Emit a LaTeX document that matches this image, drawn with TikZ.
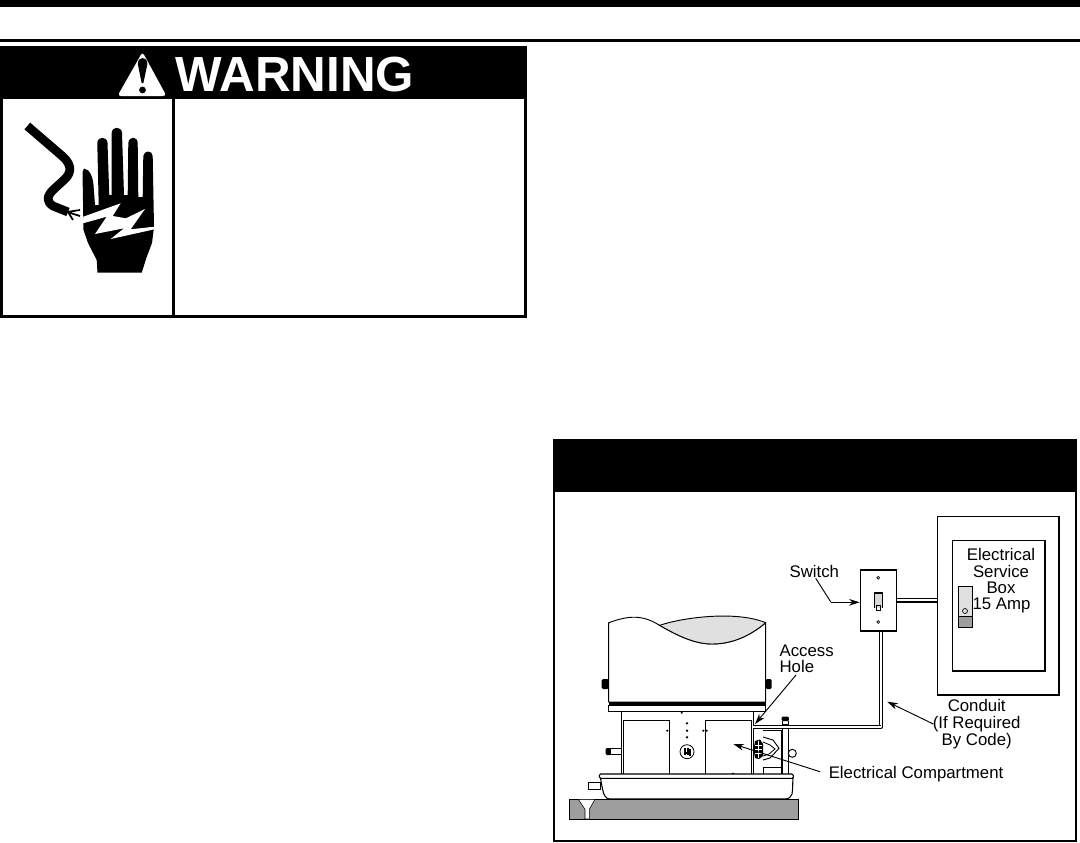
\documentclass[tikz,border=0pt]{standalone}
\usepackage{fontspec}
\setmainfont{Liberation Sans}
\usetikzlibrary{arrows.meta,fit}
\tikzset{
  lbl/.style={font=\fontsize{12.6}{12.6}\selectfont,inner sep=0pt,align=center},
  leader/.style={draw=black,line width=0.7pt,-{Stealth[length=8pt,width=5pt]}},
  pipe/.style={draw=black,line width=3.3pt},
  pipein/.style={draw=white,line width=1.7pt},
  boxn/.style={draw=black,line width=0.9pt,inner sep=0pt,fill=white},
  dot/.style={fill=black,draw=none},
}
\begin{document}
\begin{tikzpicture}[x=0.75pt,y=-0.75pt]
\useasboundingbox (0,0) rectangle (1080,842);
\fill[white] (0,0) rectangle (1080,842);
% page rules
\fill[black] (0,0) rectangle (1080,7);
\fill[black] (0,39.5) rectangle (1080,42);
% warning box
\fill[black] (0,46) rectangle (527,99);
\draw[black,line width=2.4pt] (1.5,98) -- (1.5,316.5) -- (525.5,316.5) -- (525.5,98);
\draw[black,line width=2.4pt] (173.5,99) -- (173.5,316);
\node[font=\fontsize{37}{40}\bfseries\selectfont,text=white,inner sep=0pt] (warn) at (295,74.5) {WARNING};
% warning triangle
\fill[white,rounded corners=2.5pt] (142.5,52) -- (166.5,96) -- (117.5,96) -- cycle;
\fill[black] (137.8,64) .. controls (137.8,56) and (147.4,56) .. (147.4,64) -- (143.4,83) -- (141.6,83) -- cycle;
\fill[black] (142.5,90) circle (3.4);
% cord
\draw[black,line width=6.6pt,line join=round] (27.3,126) -- (61,155) .. controls (72,164) and (72,172) .. (65,179) -- (53,190) .. controls (46,197) and (47,202) .. (53,206) -- (68,212);
\draw[black,line width=1.3pt] (67,212) -- (80,210) (67,212) -- (80,216) (68,212) -- (73,220);
% hand
\fill[black] (97.5,272.7) -- (96.7,260) -- (88,243) -- (83.5,230) -- (82.5,172) -- (84,168.5)
 .. controls (90,169) and (93,178) .. (93.5,185) -- (95,205) -- (98.7,205) -- (97.3,143)
 .. controls (97.5,136) and (107,136) .. (107.5,143) -- (109.3,195) -- (111.7,195) -- (111.7,133)
 .. controls (112,126) and (121.5,126) .. (122,133) -- (124,195) -- (127.7,195) -- (128.3,143)
 .. controls (129,136) and (137.5,136) .. (137.7,143) -- (138.3,197) -- (142.7,197) -- (143.3,156)
 .. controls (144,150) and (152.5,150) .. (152.7,156) -- (154,227) -- (152,243) -- (146.7,257) -- (141.7,272.7) -- cycle;
\fill[white] (83.3,216.7) -- (120.7,203.3) -- (112.7,216) -- (126,218.3) -- (145,209) -- (130.7,229.3) -- (154.5,226.7) -- (154.5,229.3) -- (110.7,239) -- (124,228.3) -- (95,234) -- (106.7,216.7) -- (83,223.3) -- cycle;
% figure frame
\fill[black] (552.5,439) rectangle (1077,492);
\draw[black,line width=1.5pt] (553.5,440) rectangle (1076,841);
% service box
\coordinate (o1) at (937.3,516.7); \coordinate (o2) at (1059,695);
\coordinate (i1) at (952.3,540.5); \coordinate (i2) at (1045,671);
\coordinate (s1) at (860.3,570); \coordinate (s2) at (896.7,631);
\node[boxn,fit=(o1)(o2)] (outer) {};
\node[boxn,fit=(i1)(i2)] (inner) {};
\node[lbl] (elec) at (1001,554) {Electrical};
\node[lbl] (serv) at (1001,571) {Service};
\node[lbl] (boxt) at (1001,588) {Box};
\node[lbl] (amp) at (1001.5,605.5) {15 Amp};
% breaker
\fill[black!12] (958.3,586) rectangle (972.7,616.7);
\fill[black!38] (958.3,616.7) rectangle (972.7,627.3);
\draw[black,line width=0.5pt] (958.3,586) rectangle (972.7,627.3);
\draw[black,line width=1.3pt] (958.3,586.5) -- (972.7,586.5);
\draw[black,line width=0.5pt] (958.3,616.7) -- (972.7,616.7);
\draw[black,line width=0.5pt] (965,611) circle (2.5);
% conduits
\coordinate (bend) at (880.8,727.2);
\coordinate (holeend) at (753.3,727.2);
\coordinate (swbot) at (880.8,631);
\coordinate (swright) at (896.7,600.3);
\coordinate (boxleft) at (937.3,600.3);
\path[pipe,line join=round] (swbot) -- (bend) -- (holeend);
\path[pipe] (swright) -- (boxleft);
\path[pipein,line join=round] (swbot) -- (bend) -- (holeend);
\path[pipein] (swright) -- (boxleft);
% switch
\node[boxn,fit=(s1)(s2)] (plate) {};
\draw[black,line width=0.5pt] (878.3,577.7) circle (1.4);
\draw[black,line width=0.5pt] (878.3,622) circle (1.4);
\fill[black!15] (874.3,592.7) rectangle (882.3,608);
\draw[black,line width=0.8pt] (874.5,608) -- (874.5,593) -- (882.1,593) -- (882.1,608);
\draw[black,line width=0.5pt] (876,605) rectangle (880.6,610.5);
% labels + leaders
\node[lbl] (switch) at (814.3,571.7) {Switch};
\node[lbl,align=left,anchor=west] (access) at (779.3,658.7) {Access\\Hole};
\node[lbl] (cond) at (976.7,724) {Conduit\\(If Required\\By Code)};
\node[lbl,anchor=west] (comp) at (828.5,774) {Electrical Compartment};
\coordinate (swa) at (815.7,578.3); \coordinate (swb) at (831,602.3);
\coordinate (aca) at (796,675); \coordinate (acb) at (755,724);
\coordinate (coa) at (933.3,724); \coordinate (cob) at (887.3,701.7);
\coordinate (cpa) at (820,771.7); \coordinate (cpb) at (733.3,744);
% unit: lid
\draw[black,line width=0.7pt,fill=white] (608.7,622.7) .. controls (625,617) and (640,613) .. (659,625) .. controls (678,636) and (695,644) .. (712,644) .. controls (732,644) and (750,636) .. (765.7,622.7) -- (765.7,702) -- (608.7,702) -- cycle;
\fill[black!12] (659,625.6) .. controls (680,618) and (735,610) .. (765.7,622.7) .. controls (750,636) and (732,644) .. (712,644) .. controls (695,644) and (678,636) .. (659,625.6) -- cycle;
\draw[black,line width=0.7pt] (659,625.6) .. controls (680,618) and (735,610) .. (765.7,622.7);
\draw[black,line width=0.7pt] (659,625) .. controls (678,636) and (695,644) .. (712,644) .. controls (732,644) and (750,636) .. (765.7,622.7);
\fill[black] (608.7,701.7) rectangle (765.7,705);
\draw[black,line width=0.7pt] (608.7,705) rectangle (765.7,711.7);
% knobs
\fill[black,rounded corners=1pt] (601.7,679) rectangle (608.7,689);
\fill[black,rounded corners=1pt] (765.7,679) rectangle (771.7,689);
% body
\draw[black,line width=0.7pt] (621.7,711.7) -- (621.7,774) (753.3,711.7) -- (753.3,774);
\draw[black,line width=0.7pt] (623.3,774) -- (623.3,720) -- (669.3,720) -- (669.3,774);
\draw[black,line width=0.7pt] (705.3,774) -- (705.3,720) -- (751.7,720) -- (751.7,774);
\fill[dot] (681.7,712.7) circle (1.1) (687,723.3) circle (1.3) (687,730.7) circle (1.3) (687,737.3) circle (1.3) (667.3,730.7) circle (1.2) (703.3,730.7) circle (1.2) (706.7,730.7) circle (1.2) (733,774) circle (1.5);
\draw[black,line width=0.6pt] (687,751.7) circle (7);
\draw[black,line width=1pt] (683.5,753) -- (690.5,753) (685,748) -- (685,755) (688,747.5) -- (688,755) (690,749) -- (690,756);
% left pipe
\draw[black,line width=0.7pt] (610,748.3) rectangle (621.7,754.3);
\fill[black,rounded corners=0.8pt] (605.7,748) rectangle (610.7,755);
% plumbing
\draw[black,line width=0.7pt] (763,730) -- (781.7,730) -- (781.7,774);
\draw[black,line width=0.7pt] (763,767.7) rectangle (781.7,774);
\draw[black,line width=0.7pt,fill=white] (782.7,724) rectangle (788.3,774);
\fill[black,rounded corners=0.8pt] (781.7,716.7) rectangle (788.8,721);
\draw[black,line width=0.7pt] (782.7,721) -- (782.7,725) (788.3,721) -- (788.3,725);
\path[pipe] (753.3,727.2) -- (bend);
\path[pipein] (753.3,727.2) -- (bend);
\draw[black,line width=0.7pt,fill=white] (792.3,753.3) circle (4);
\draw[black,line width=0.7pt,fill=white] (763,737) -- (773,740) -- (779,748.3) -- (770,758) -- (763,760);
\draw[black,line width=0.6pt] (763,742) -- (770,745) -- (775,749) -- (769,754) -- (763,756);
\fill[black] (755,741) -- (760,739.5) -- (763,744) -- (763,756) -- (759,759) -- (755,758) -- (753.5,750) -- cycle;
\draw[white,line width=0.4pt] (755,745) -- (762,745) (755,749) -- (762,749) (755,753) -- (762,753) (758,741) -- (758,758);
% tray
\draw[black,line width=0.7pt,fill=white] (588.3,782.7) rectangle (600.7,789.3);
\draw[black,line width=0.8pt,fill=white] (600.5,778.3) .. controls (602,786) and (603,794) .. (605,796) .. controls (606,798) and (608,799) .. (610,799) -- (785,799) .. controls (790,799) and (791,796) .. (792,794) .. controls (793,788) and (792.5,784) .. (793,778.3) -- cycle;
\draw[black,line width=0.8pt,fill=white,rounded corners=1pt] (599.3,774) rectangle (793.3,778.3);
% slab
\draw[black,line width=0.7pt,fill=black!38] (569.3,799.3) rectangle (798.3,819);
\draw[black,line width=0.4pt,fill=white] (578.3,799.3) -- (595,799.3) -- (589.3,809.3) -- (589.3,819) -- (585,819) -- (585,809.3) -- cycle;
% leaders on top
\draw[black,line width=0.7pt] (swa) -- (swb);
\path[leader] (swb) -- (plate.west |- swb);
\path[leader] (aca) -- (acb);
\path[leader] (coa) -- (cob);
\path[leader] (cpa) -- (cpb);
\end{tikzpicture}
\end{document}
